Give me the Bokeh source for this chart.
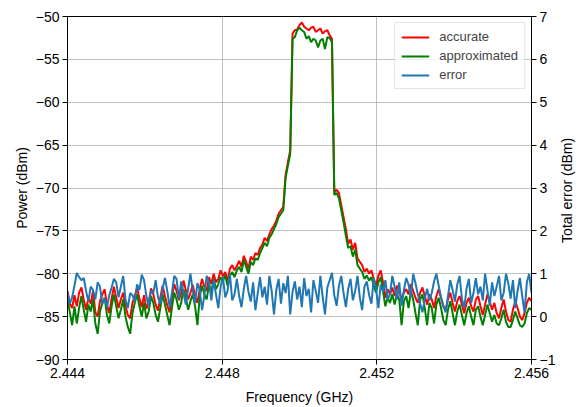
import math
from bokeh.plotting import figure
from bokeh.models import Range1d, LinearAxis, FixedTicker, CustomJSTickFormatter, Legend, LegendItem
from bokeh.embed import file_html
from bokeh.resources import INLINE

# frequency bins (GHz)
freq_start = 2.444
freq_step = 0.00006
n_bins = 201
freq = [round(freq_start + i * freq_step, 6) for i in range(n_bins)]

accurate = [
    -82.0, -83.5, -84.0, -82.5, -83.8, -82.2, -81.6, -83.0, -84.2, -82.8,
    -83.5, -82.0, -84.5, -85.0, -83.2, -82.4, -81.8, -83.6, -84.6, -82.9,
    -81.5, -82.8, -84.0, -83.0, -82.2, -83.8, -84.8, -85.2, -83.4, -82.6,
    -81.6, -82.9, -83.9, -82.5, -84.1, -83.3, -81.7, -82.4, -83.6, -84.3,
    -82.8, -81.4, -82.6, -83.7, -84.5, -82.9, -81.2, -82.0, -83.1, -82.3,
    -80.8, -81.9, -83.0, -82.2, -81.3, -82.6, -83.4, -81.8, -80.6, -81.5,
    -82.0, -80.4, -81.2, -80.0, -81.0, -80.6, -79.6, -80.3, -79.8, -80.8,
    -79.4, -79.0, -79.6, -79.1, -78.5, -79.2, -77.9, -78.6, -79.4, -78.0,
    -78.4, -77.6, -77.8, -77.0, -76.6, -75.8, -76.2, -75.4, -74.8, -74.4,
    -73.8, -73.0, -72.6, -72.2, -68.5, -67.0, -65.6,
    -52.0, -51.6, -51.5, -51.0, -50.7, -51.2, -51.4, -51.6, -51.3, -51.2,
    -51.8, -51.6, -51.4, -52.0, -51.7, -51.6, -52.2, -52.6,
    -70.5, -70.2, -70.6, -72.0, -73.4, -74.8, -76.5, -76.0, -77.2, -76.4,
    -78.2, -78.6, -79.0, -79.8, -79.4, -80.0, -79.6, -80.6, -81.4, -80.2,
    -79.6, -81.0, -82.8, -81.8, -82.4, -81.6, -82.6, -81.4, -82.0, -83.0,
    -82.2,
    -81.8, -82.4, -81.2, -82.0,
    -82.8, -83.4, -82.2, -81.6, -82.6, -83.6, -82.4, -83.0, -84.0, -82.6,
    -81.8, -82.8, -83.8, -84.2, -83.0, -82.2, -83.4, -84.4, -83.2, -82.6,
    -83.6, -84.6, -83.4, -82.8, -83.8, -84.4, -83.0, -82.6, -83.8, -84.8,
    -83.6, -82.4, -83.2, -84.2, -83.4, -84.6, -85.2, -84.0, -83.0, -84.4,
    -85.4, -85.6, -84.2, -83.2, -84.0, -85.0, -85.4, -84.6, -83.4, -82.8,
    -83.2,
]

approximated = [
    -83.0, -84.5, -86.0, -83.8, -85.8, -84.0, -82.6, -84.2, -85.6, -83.6,
    -84.4, -83.0, -85.8, -87.0, -84.4, -83.4, -82.8, -84.8, -85.8, -83.8,
    -82.4, -83.8, -85.2, -84.2, -83.0, -85.0, -86.2, -87.0, -84.6, -83.4,
    -82.4, -83.8, -85.0, -83.4, -85.2, -84.4, -82.6, -83.4, -84.8, -85.6,
    -84.0, -82.4, -83.6, -84.8, -86.0, -84.0, -82.2, -83.0, -84.2, -83.4,
    -81.8, -82.8, -84.2, -83.2, -82.4, -83.8, -86.0, -82.6, -81.4, -82.4,
    -83.0, -81.2, -82.2, -80.6, -81.8, -81.2, -80.4, -80.8, -80.2, -81.4,
    -80.2, -79.8, -80.4, -79.6, -79.2, -79.8, -78.4, -79.2, -80.0, -78.6,
    -79.0, -78.2, -78.4, -77.6, -77.0, -76.4, -76.8, -75.8, -75.4, -74.8,
    -74.2, -73.4, -73.0, -72.6, -68.8, -67.4, -66.0,
    -52.6, -52.4, -51.6, -51.3, -51.6, -51.8, -52.6, -52.3, -53.0, -52.6,
    -52.8, -53.6, -52.8, -52.6, -53.8, -52.4, -52.5, -53.0,
    -70.8, -70.6, -71.2, -72.6, -74.0, -75.6, -77.0, -76.8, -78.0, -77.2,
    -79.0, -79.4, -79.8, -80.6, -80.2, -80.8, -80.4, -81.4, -82.2, -81.0,
    -80.4, -82.0, -83.8, -82.8, -83.4, -82.4, -83.6, -82.4, -83.0, -86.0,
    -83.2,
    -82.6, -84.0, -82.0, -83.0,
    -84.6, -86.0, -83.0, -82.4, -84.0, -86.0, -83.4, -84.0, -85.8, -83.6,
    -82.8, -84.0, -85.4, -86.0, -84.2, -83.2, -84.6, -86.0, -84.4, -83.6,
    -84.8, -86.0, -84.6, -83.8, -85.0, -86.0, -84.2, -83.8, -85.0, -86.0,
    -84.8, -83.6, -84.6, -85.6, -84.8, -85.8, -86.0, -85.2, -84.2, -85.6,
    -86.2, -86.2, -85.4, -84.4, -85.2, -86.0, -86.2, -85.8, -84.6, -84.0,
    -84.2,
]

error = [
    0.55, 0.30, 0.45, 0.72, 1.02, 0.92, 0.85, 0.90, 0.60, 0.35,
    0.70, 0.62, 0.40, 0.80, 0.70, 0.30, 0.42, 0.22, 0.50, 0.68,
    0.88, 0.80, 0.45, 0.70, 0.95, 0.40, 0.20, 0.55, 0.50, 0.35,
    0.75, 0.62, 0.98, 0.85, 0.48, 0.25, 0.60, 0.55, 0.85, 0.45,
    0.30, 0.65, 0.90, 0.60, 0.22, 0.55, 0.95, 0.88, 0.40, 0.82,
    0.55, 0.28, 0.65, 1.00, 0.60, 0.32, 0.78, 0.62, 0.15, 0.50,
    0.95, 0.80, 0.38, 0.85, 0.52, 0.20, 0.70, 0.92, 0.45, 0.60,
    1.00, 0.38, 0.52, 0.88, 0.48, 0.22, 0.65, 0.95, 0.58, 0.35,
    0.80, 0.15, 0.55, 0.92, 0.45, 0.70, 0.28, 0.95, 0.60, 0.05,
    0.62, 0.88, 0.30, 0.78, 0.55, 0.95, 0.05, 0.58, 0.82, 0.40,
    0.70, 0.22, 0.90, 0.48, 0.65, 0.10, 0.85, 0.60, 0.32, 0.95,
    0.45, 0.05, 0.68, 0.85, 1.02, 0.50, 0.25, 0.72, 0.95, 0.55,
    0.22, 0.65, 0.88, 0.38, 0.60, 0.95, 0.45, 0.15, 0.70, 0.82,
    0.50, 0.30, 0.90, 0.65, 0.20, 0.75, 0.58, 0.85, 0.40, 0.52,
    0.95, 0.70, 0.40, 0.80, 0.25, 0.62, 0.90, 0.75, 0.45, 1.00,
    0.78, 0.52, 0.30, 0.10, 0.42, 0.65, 0.38, 0.55, 0.82, 1.00,
    0.72, 0.45, 0.25, 0.10, 0.48, 0.85, 0.62, 0.35, 0.75, 0.95,
    0.42, 0.20, 0.65, 0.88, 0.32, 0.55, 0.90, 0.52, 0.70, 0.38,
    1.00, 0.62, 0.25, 0.80, 0.48, 0.70, 0.95, 0.38, 0.55, 1.00,
    0.78, 0.42, 0.85, 0.20, 0.60, 0.90, 0.48, 0.10, 0.80, 1.00,
    0.55,
]

x_ticks = [2.444, 2.448, 2.452, 2.456]
power_ticks = [-90, -85, -80, -75, -70, -65, -60, -55, -50]
error_ticks = [-1, 0, 1, 2, 3, 4, 5, 6, 7]
right_title = "Total error (dBm)"

FONT = "Liberation Sans"
FS = "14px"
LW = 2

p = figure(width=586, height=407, output_backend="svg", toolbar_location=None,
           x_range=Range1d(2.444, 2.456), y_range=Range1d(-90, -50),
           min_border_left=67, min_border_right=53, min_border_top=16, min_border_bottom=44)
p.background_fill_color = "white"
p.border_fill_color = "white"
p.outline_line_color = "black"
p.outline_line_width = 1
p.outline_line_alpha = 1

p.extra_y_ranges = {"err": Range1d(-1, 7)}

r_acc = p.line(freq, accurate, line_color="#ff0000", line_width=LW)
r_app = p.line(freq, approximated, line_color="#008000", line_width=LW)
r_err = p.line(freq, error, line_color="#1f77b4", line_width=LW, y_range_name="err")

minus_fmt = CustomJSTickFormatter(code="return (tick < 0 ? '\\u2212' : '') + Math.abs(tick).toString();")

right_axis = LinearAxis(y_range_name="err")
p.add_layout(right_axis, "right")

p.xaxis.ticker = FixedTicker(ticks=x_ticks)
p.xaxis.formatter = CustomJSTickFormatter(code="return tick.toFixed(3);")
p.yaxis[0].ticker = FixedTicker(ticks=power_ticks)
p.yaxis[0].formatter = minus_fmt
right_axis.ticker = FixedTicker(ticks=error_ticks)
right_axis.formatter = minus_fmt

p.xaxis.axis_label = "Frequency (GHz)"
p.yaxis[0].axis_label = "Power (dBm)"

for ax in [p.xaxis[0], p.yaxis[0], right_axis]:
    ax.axis_line_color = "black"
    ax.axis_line_width = 1
    ax.major_tick_line_color = "black"
    ax.major_tick_out = 5
    ax.major_tick_in = 0
    ax.minor_tick_line_color = None
    ax.major_label_text_font = FONT
    ax.major_label_text_font_size = FS
    ax.major_label_text_color = "black"
    ax.axis_label_text_font = FONT
    ax.axis_label_text_font_size = FS
    ax.axis_label_text_font_style = "normal"
    ax.axis_label_text_color = "black"
    ax.major_label_standoff = 3

p.xaxis.axis_label_standoff = 8
p.yaxis[0].axis_label_standoff = 3

# right-hand axis title (reads bottom to top), drawn as the single label of a bare axis
title_axis = LinearAxis(y_range_name="err", ticker=FixedTicker(ticks=[1.72]),
                        formatter=CustomJSTickFormatter(code="return '" + right_title + "';"))
title_axis.axis_line_color = None
title_axis.major_tick_line_color = None
title_axis.minor_tick_line_color = None
title_axis.major_tick_out = 0
title_axis.major_tick_in = 0
title_axis.major_label_orientation = math.pi / 2
title_axis.major_label_standoff = 9
title_axis.major_label_text_font = FONT
title_axis.major_label_text_font_size = FS
title_axis.major_label_text_color = "black"
p.add_layout(title_axis, "right")

p.xgrid.grid_line_color = "#b0b0b0"
p.ygrid.grid_line_color = "#b0b0b0"
p.xgrid.grid_line_width = 0.8
p.ygrid.grid_line_width = 0.8
p.xgrid.ticker = FixedTicker(ticks=x_ticks)
p.ygrid.ticker = FixedTicker(ticks=power_ticks)

legend = Legend(items=[
    LegendItem(label="accurate", renderers=[r_acc]),
    LegendItem(label="approximated", renderers=[r_app]),
    LegendItem(label="error", renderers=[r_err]),
])
legend.location = "top_right"
legend.margin = 6
legend.padding = 6
legend.spacing = 4
legend.glyph_width = 28
legend.glyph_height = 14
legend.label_height = 14
legend.label_standoff = 10
legend.label_text_font = FONT
legend.label_text_font_size = "13px"
legend.border_line_color = "#cccccc"
legend.border_line_width = 1
legend.background_fill_color = "white"
legend.background_fill_alpha = 0.8
p.add_layout(legend)

open("out.html", "w", encoding="utf-8").write(file_html(p, INLINE))
